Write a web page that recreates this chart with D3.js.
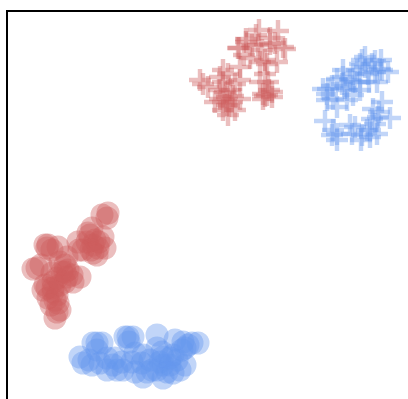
<!DOCTYPE html>
<html>
<head>
<meta charset="utf-8">
<script src="https://cdn.jsdelivr.net/npm/d3@7"></script>
<style>html,body{margin:0;padding:0;background:#fff;overflow:hidden}svg{display:block}</style>
</head>
<body>
<div id="chart"></div>
<script>
const redCircles = [[101,187],[95,185],[41,155],[38,155],[26,131],[30,132],[48,82],[53,90],[51,97],[46,108],[36,110],[41,102],[46,112],[73,123],[65,125],[58,135],[60,143],[51,153],[45,127],[55,128],[71,158],[81,167],[88,160],[96,163],[98,152],[90,145],[80,158],[86,155],[91,152],[83,165],[40,152],[46,118],[50,105],[60,123],[53,138],[61,130],[38,115],[48,100],[53,115],[85,172],[76,150],[92,158],[84,150],[58,118],[50,122],[44,95],[100,182],[34,135],[45,150],[50,88],[86,147],[72,150],[66,118],[58,128],[40,112]];
const blueCircles = [[150,65],[121,63],[126,63],[118,63],[90,57],[95,57],[86,57],[73,43],[76,37],[85,35],[93,37],[168,60],[176,58],[185,57],[191,57],[181,55],[106,35],[110,30],[116,30],[115,38],[128,47],[136,45],[136,23],[150,52],[135,37],[153,38],[156,35],[156,22],[150,30],[163,35],[173,30],[178,35],[166,45],[156,43],[166,27],[100,42],[108,42],[125,38],[128,28],[143,40],[145,30],[160,28],[170,40],[90,50],[82,40],[155,48],[175,50],[178,52],[122,58],[140,28],[163,42],[100,30]];
const redPluses = [[252,370],[271,369],[239,361],[249,365],[232,352],[245,355],[263,356],[278,351],[255,350],[237,345],[270,338],[253,338],[260,336],[233,333],[258,326],[253,318],[261,318],[260,305],[256,306],[265,308],[256,301],[265,303],[193,320],[196,316],[201,313],[216,330],[216,318],[221,326],[213,323],[233,320],[223,310],[233,301],[208,298],[216,298],[220,295],[225,298],[228,290],[216,290],[221,285],[213,301],[239,358],[231,352],[276,353],[263,362],[268,357],[258,340],[251,355],[243,342],[226,304],[218,308],[228,316],[212,310],[220,303],[222,294],[262,310],[258,304]];
const bluePluses = [[358,343],[374,340],[368,339],[353,336],[373,331],[381,328],[336,330],[350,330],[361,326],[330,321],[343,320],[321,311],[316,311],[353,318],[370,318],[336,323],[346,305],[353,310],[326,301],[320,300],[330,293],[375,298],[366,291],[383,282],[365,281],[371,283],[318,279],[326,270],[343,275],[348,273],[330,266],[325,265],[355,265],[345,266],[363,270],[370,266],[330,260],[354,260],[363,263],[340,310],[335,316],[346,326],[358,333],[365,336],[368,328],[325,314],[320,306],[368,276],[372,288],[360,270],[338,312],[348,318],[375,330],[355,340],[362,318],[340,300]];
const RED = "#cd5c5c", BLUE = "#6495ed";

const W = 408, H = 399;
const x = d3.scaleLinear().domain([0, 401]).range([7, 408]);
const y = d3.scaleLinear().domain([0, 400]).range([400, 0]);

const svg = d3.select("#chart").append("svg").attr("width", W).attr("height", H)
  .style("filter", "blur(0.5px)");

function circles(data, color) {
  svg.append("g").selectAll("circle").data(data).join("circle")
    .attr("cx", d => x(d[0])).attr("cy", d => y(d[1])).attr("r", 11.5)
    .attr("fill", color).attr("opacity", 0.4);
}
function pluses(data, color) {
  svg.append("g").selectAll("path").data(data).join("path")
    .attr("transform", d => `translate(${x(d[0])},${y(d[1])})`)
    .attr("d", "M-11,0H11M0,-11V11")
    .attr("fill", "none").attr("stroke", color).attr("stroke-width", 4.4).attr("opacity", 0.4);
}
circles(redCircles, RED);
pluses(redPluses, RED);
circles(blueCircles, BLUE);
pluses(bluePluses, BLUE);

svg.append("path")
  .attr("d", d3.line()([[x(0), H + 5], [x(0), y(389)], [W + 5, y(389)]]))
  .attr("fill", "none").attr("stroke", "#000").attr("stroke-width", 2);
</script>
</body>
</html>
